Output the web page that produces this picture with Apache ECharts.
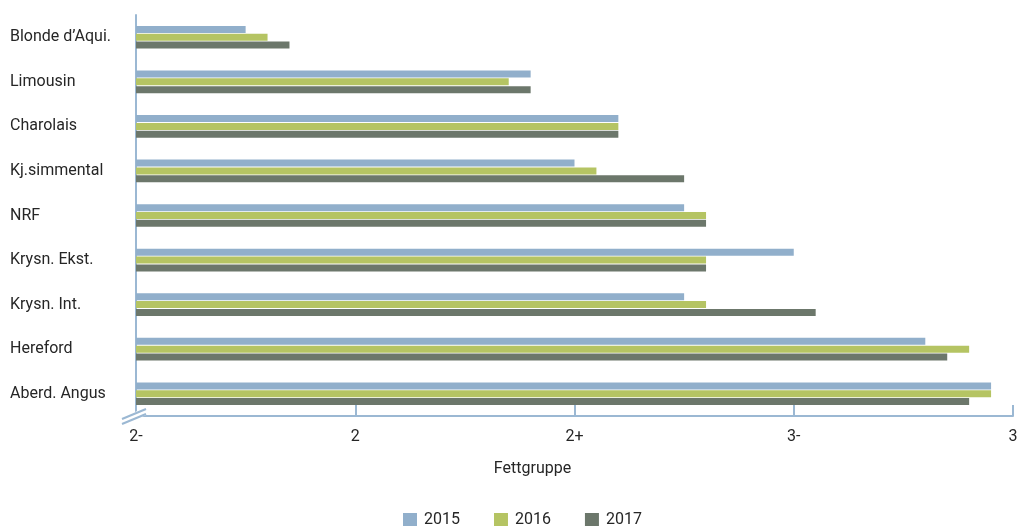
<!DOCTYPE html>
<html>
<head>
<meta charset="utf-8">
<script src="https://cdn.jsdelivr.net/npm/echarts@6/dist/echarts.min.js"></script>
<style>
  html, body { margin: 0; padding: 0; background: #fff; }
  #chart { width: 1021px; height: 526px; }
</style>
</head>
<body>
<div id="chart"></div>
<script>
// fat class scale: 0 = "2-" ... 4 = "3"
const tickLabels = ['2-', '2', '2+', '3-', '3']
const breeds = ['Blonde d\u2019Aqui.', 'Limousin', 'Charolais', 'Kj.simmental', 'NRF',
  'Krysn. Ekst.', 'Krysn. Int.', 'Hereford', 'Aberd. Angus']
const years = ['2015', '2016', '2017']
const values2015 = [0.5, 1.8, 2.2, 2.0, 2.5, 3.0, 2.5, 3.6, 3.9]
const values2016 = [0.6, 1.7, 2.2, 2.1, 2.6, 2.6, 2.6, 3.8, 3.9]
const values2017 = [0.7, 1.8, 2.2, 2.5, 2.6, 2.6, 3.1, 3.7, 3.8]
const colors = ['#91afcb', '#b5c463', '#6c776b']

const axisBlue = '#9bb8d3'
const textColor = '#262626'
const font = 'Roboto, "Noto Sans", sans-serif'

const chart = echarts.init(document.getElementById('chart'))

const seriesData = [values2015, values2016, values2017]

const option = {
  backgroundColor: '#ffffff',
  animation: false,
  textStyle: { fontFamily: font },
  legend: {
    top: 507,
    left: 398,
    itemWidth: 14,
    itemHeight: 14,
    itemGap: 34,
    icon: 'rect',
    textStyle: { fontSize: 16, color: textColor, fontFamily: font, padding: [0, 0, 0, 2] },
    data: years,
  },
  grid: {
    left: 136,
    right: 8,
    top: 15,
    bottom: 110,
  },
  xAxis: {
    type: 'value',
    min: 0,
    max: 4,
    interval: 1,
    name: 'Fettgruppe',
    nameLocation: 'middle',
    nameGap: 45,
    nameTextStyle: { fontSize: 16, color: textColor, fontFamily: font, padding: [0, 84, 0, 0] },
    axisLine: { show: true, lineStyle: { color: axisBlue, width: 2 } },
    axisTick: { show: true, inside: true, length: 11, lineStyle: { color: axisBlue, width: 2 } },
    splitLine: { show: false },
    axisLabel: {
      fontSize: 16,
      color: textColor,
      margin: 13,
      fontFamily: font,
      formatter: (v) => tickLabels[Math.round(v)],
    },
  },
  yAxis: {
    type: 'category',
    inverse: true,
    data: breeds,
    axisLine: { show: true, lineStyle: { color: axisBlue, width: 2 } },
    axisTick: { show: false },
    axisLabel: {
      align: 'left',
      margin: 126,
      fontSize: 16,
      color: textColor,
      fontFamily: font,
    },
  },
  series: years.map((y, i) => ({
    name: y,
    type: 'bar',
    data: seriesData[i],
    barWidth: 7,
    barGap: '12%',
    itemStyle: { color: colors[i] },
  })),
  graphic: [
    // axis break mark in the lower left corner
    {
      type: 'polygon',
      shape: { points: [[122, 418], [146, 407], [146, 415], [122, 426]] },
      style: { fill: '#ffffff' },
      z: 100,
    },
    {
      type: 'line',
      shape: { x1: 122, y1: 419, x2: 146, y2: 409 },
      style: { stroke: axisBlue, lineWidth: 2 },
      z: 101,
    },
    {
      type: 'line',
      shape: { x1: 122, y1: 424, x2: 146, y2: 414 },
      style: { stroke: axisBlue, lineWidth: 2 },
      z: 101,
    },
  ],
}

chart.setOption(option)
</script>
</body>
</html>
